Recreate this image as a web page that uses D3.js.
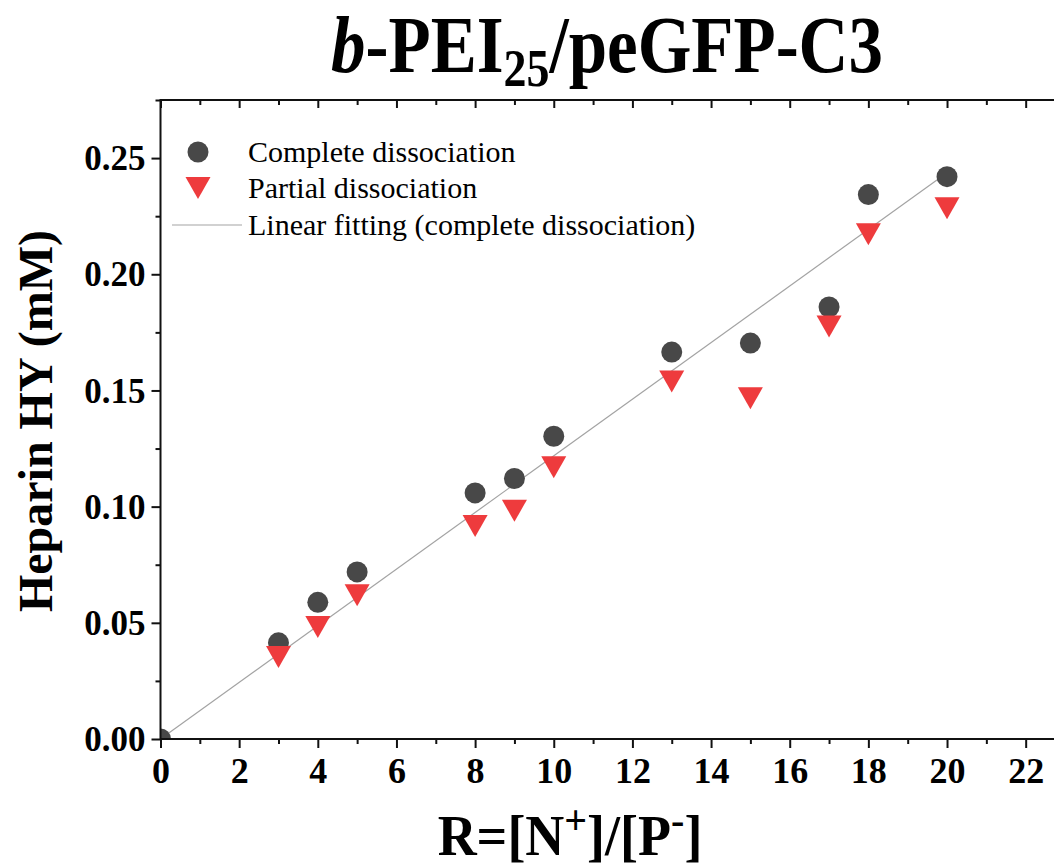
<!DOCTYPE html>
<html><head><meta charset="utf-8">
<script src="https://cdn.jsdelivr.net/npm/d3@7/dist/d3.min.js"></script>
<style>body{margin:0;background:#fff;} svg{display:block;}</style>
</head><body>
<script>
const ratio = [0,3,4,5,8,9,10,13,15,17,18,20];
const complete = [0,0.0414,0.0588,0.0719,0.1059,0.1121,0.1303,0.1665,0.1704,0.1859,0.2343,0.2420];
const ratioPartial = [3,4,5,8,9,10,13,15,17,18,20];
const partial = [0.0353,0.0482,0.0619,0.0917,0.0982,0.1170,0.1538,0.1466,0.1775,0.2172,0.2284];
const fitX = [0,20];
const fitY = [0,0.2437];
const xMajor = [0,2,4,6,8,10,12,14,16,18,20,22];
const xMinor = [1,3,5,7,9,11,13,15,17,19,21,23];
const yMajor = [0,0.05,0.10,0.15,0.20,0.25];
const yMinor = [0.025,0.075,0.125,0.175,0.225,0.275];
const legendLabels = ["Complete dissociation","Partial dissociation","Linear fitting (complete dissociation)"];

const W=1054,H=866;
const svg=d3.select("body").append("svg").attr("width",W).attr("height",H);
const L=160.5,R=1065,T=100,B=739;
const x=d3.scaleLinear().domain([0,23]).range([L,R]);
const y=d3.scaleLinear().domain([0,0.275]).range([B,T]);
const serif="'Liberation Serif','Times New Roman',serif";
const circleCol="#484848", triCol="#ee3b3d", lineCol="#a3a3a3";

svg.append("defs").append("clipPath").attr("id","clip").append("rect")
  .attr("x",L).attr("y",T).attr("width",R-L).attr("height",B-T);

// fit line
const plot=svg.append("g").attr("clip-path","url(#clip)");
plot.append("path").datum(fitX.map((d,i)=>[d,fitY[i]]))
  .attr("d",d3.line().x(d=>x(d[0])).y(d=>y(d[1])))
  .attr("stroke",lineCol).attr("stroke-width",1.2).attr("fill","none");
plot.selectAll("circle.c").data(ratio.map((d,i)=>[d,complete[i]])).join("circle")
  .attr("cx",d=>x(d[0])).attr("cy",d=>y(d[1])).attr("r",10.5).attr("fill",circleCol);
const tri="M-12.5,-11L12.5,-11L0,11Z";
plot.selectAll("path.t").data(ratioPartial.map((d,i)=>[d,partial[i]])).join("path")
  .attr("d",tri).attr("transform",d=>`translate(${x(d[0])},${y(d[1])})`).attr("fill",triCol);

// axes
function styleAx(g){g.select(".domain").remove();g.selectAll("line").attr("stroke","#111").attr("stroke-width",2);}
const gx=svg.append("g").attr("transform",`translate(0,${B})`);
gx.call(d3.axisBottom(x).tickValues(xMajor).tickSize(9).tickFormat(d3.format("d"))).call(styleAx);
gx.selectAll("text").attr("font-family",serif).attr("font-weight","bold").attr("font-size",36).attr("fill","#000").attr("y",44).attr("dy",0);
svg.append("g").attr("transform",`translate(0,${B})`).call(d3.axisBottom(x).tickValues(xMinor).tickSize(5).tickFormat("")).call(styleAx);

const gt=svg.append("g").attr("transform",`translate(0,${T})`);
gt.call(d3.axisBottom(x).tickValues(xMajor).tickSize(8).tickFormat("")).call(styleAx);
svg.append("g").attr("transform",`translate(0,${T})`).call(d3.axisBottom(x).tickValues(xMinor).tickSize(5).tickFormat("")).call(styleAx);

const gy=svg.append("g").attr("transform",`translate(${L},0)`);
gy.call(d3.axisLeft(y).tickValues(yMajor).tickSize(9).tickPadding(6).tickFormat(d3.format(".2f"))).call(styleAx);
gy.selectAll("text").attr("font-family",serif).attr("font-weight","bold").attr("font-size",35).attr("fill","#000").attr("dy","0.33em");
svg.append("g").attr("transform",`translate(${L},0)`).call(d3.axisLeft(y).tickValues(yMinor).tickSize(5).tickFormat("")).call(styleAx);

// axis lines
svg.append("line").attr("x1",L).attr("x2",R).attr("y1",B).attr("y2",B).attr("stroke","#111").attr("stroke-width",2);
svg.append("line").attr("x1",L).attr("x2",R).attr("y1",T).attr("y2",T).attr("stroke","#111").attr("stroke-width",2);
svg.append("line").attr("x1",L).attr("x2",L).attr("y1",T-1).attr("y2",B+1).attr("stroke","#111").attr("stroke-width",2);

// title
const title=svg.append("text").attr("transform","translate(607,72) scale(1,1.15)").attr("text-anchor","middle")
  .attr("font-family",serif).attr("font-weight","bold").attr("font-size",69);
title.append("tspan").attr("font-style","italic").text("b");
title.append("tspan").text("-PEI");
title.append("tspan").attr("font-size",46).attr("dy",12).text("25");
title.append("tspan").attr("dy",-12).text("/peGFP-C3");

// x label
const xl=svg.append("text").attr("transform","translate(570,855) scale(1,1.06)").attr("text-anchor","middle")
  .attr("font-family",serif).attr("font-weight","bold").attr("font-size",54);
xl.append("tspan").text("R=[N");
xl.append("tspan").attr("font-size",40).attr("dy",-20).text("+");
xl.append("tspan").attr("dy",20).text("]/[P");
xl.append("tspan").attr("font-size",40).attr("dy",-20).text("-");
xl.append("tspan").attr("dy",20).text("]");

// y label
svg.append("text").attr("transform","translate(52,421) rotate(-90)").attr("text-anchor","middle")
  .attr("font-family",serif).attr("font-weight","bold").attr("font-size",48).text("Heparin HY (mM)");

// legend
const lg=svg.append("g");
const rows=[152,188,225];
lg.append("circle").attr("cx",198).attr("cy",rows[0]).attr("r",10.5).attr("fill",circleCol);
lg.append("path").attr("d",tri).attr("transform",`translate(198,${rows[1]})`).attr("fill",triCol);
lg.append("line").attr("x1",172).attr("x2",242).attr("y1",rows[2]).attr("y2",rows[2]).attr("stroke",lineCol).attr("stroke-width",1.2);
lg.selectAll("text").data(legendLabels).join("text").attr("x",248).attr("y",(d,i)=>rows[i]+10)
  .attr("font-family",serif).attr("font-size",30).attr("fill","#000").text(d=>d);
</script>
</body></html>
